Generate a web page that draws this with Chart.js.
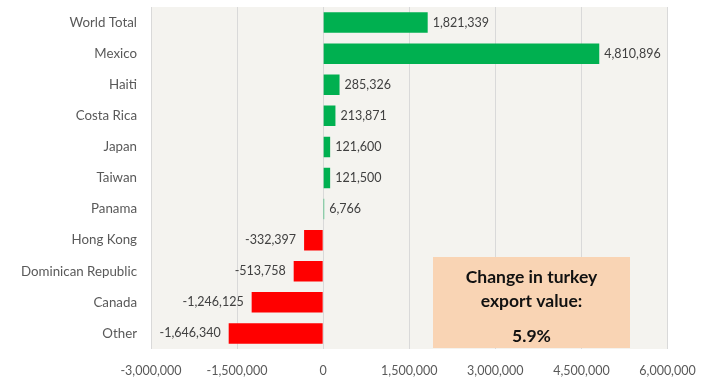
<!DOCTYPE html>
<html>
<head>
<meta charset="utf-8">
<script src="https://cdn.jsdelivr.net/npm/chart.js@4.4.1/dist/chart.umd.min.js"></script>
<style>
  html, body { margin: 0; padding: 0; background: #ffffff; }
  #wrap { width: 714px; height: 379px; }
</style>
</head>
<body>
<div id="wrap"><canvas id="chart" width="714" height="379"></canvas></div>
<script>
// Change in turkey export value by market
const markets = [
  'World Total', 'Mexico', 'Haiti', 'Costa Rica', 'Japan', 'Taiwan',
  'Panama', 'Hong Kong', 'Dominican Republic', 'Canada', 'Other'
];
const changeValues = [
  1821339, 4810896, 285326, 213871, 121600, 121500,
  6766, -332397, -513758, -1246125, -1646340
];
const xTickValues = [-3000000, -1500000, 0, 1500000, 3000000, 4500000, 6000000];
const boxTitleLines = ['Change in turkey', 'export value:'];
const boxFigure = '5.9%';

const FONT = 'Lato, "Open Sans", sans-serif';
const fmt = v => v.toLocaleString('en-US');

// Warm grey fill behind the plotting area
const plotBackground = {
  id: 'plotBackground',
  beforeDraw(chart) {
    const { ctx, chartArea: a } = chart;
    ctx.save();
    ctx.fillStyle = '#F4F3EF';
    ctx.fillRect(a.left, a.top, a.right - a.left, a.bottom - a.top);
    ctx.restore();
  }
};

// Value labels placed just outside each bar end
const valueLabels = {
  id: 'valueLabels',
  afterDatasetsDraw(chart) {
    const { ctx } = chart;
    const meta = chart.getDatasetMeta(0);
    const data = chart.data.datasets[0].data;
    ctx.save();
    ctx.font = '12.5px ' + FONT;
    ctx.fillStyle = '#404040';
    ctx.textBaseline = 'middle';
    meta.data.forEach((bar, i) => {
      const v = data[i];
      const p = bar.getProps(['x', 'y', 'base'], true);
      if (v >= 0) {
        ctx.textAlign = 'left';
        ctx.fillText(fmt(v), Math.max(p.x, p.base) + 5, p.y);
      } else {
        ctx.textAlign = 'right';
        ctx.fillText(fmt(v), Math.min(p.x, p.base) - 8, p.y);
      }
    });
    ctx.restore();
  }
};

// Summary call-out in the lower right of the plot
const summaryBox = {
  id: 'summaryBox',
  afterDraw(chart) {
    const { ctx, chartArea: a } = chart;
    const left = a.left + 282, right = a.left + 479;
    const top = a.bottom - 92, bottom = a.bottom - 1;
    ctx.save();
    ctx.fillStyle = '#F9D4B4';
    ctx.fillRect(left, top, right - left, bottom - top);
    const cx = (left + right) / 2;
    ctx.fillStyle = '#111111';
    ctx.font = 'bold 17.5px ' + FONT;
    ctx.textAlign = 'center';
    ctx.textBaseline = 'middle';
    ctx.fillText(boxTitleLines[0], cx, top + 20);
    ctx.fillText(boxTitleLines[1], cx, top + 44);
    ctx.fillText(boxFigure, cx, top + 79);
    ctx.restore();
  }
};

new Chart(document.getElementById('chart'), {
  type: 'bar',
  data: {
    labels: markets,
    datasets: [{
      data: changeValues,
      backgroundColor: changeValues.map(v => v >= 0 ? '#00B050' : '#FF0000'),
      borderWidth: 0,
      minBarLength: 1,
      barPercentage: 0.66,
      categoryPercentage: 1.0
    }]
  },
  options: {
    indexAxis: 'y',
    responsive: false,
    animation: false,
    layout: { padding: { left: 0, right: 46.5, top: 7, bottom: 0 } },
    plugins: {
      legend: { display: false },
      tooltip: { enabled: false }
    },
    scales: {
      x: {
        min: xTickValues[0],
        max: xTickValues[xTickValues.length - 1],
        afterBuildTicks(scale) {
          scale.ticks = xTickValues.map(v => ({ value: v }));
        },
        afterFit(scale) { scale.height = 30; },
        grid: { color: '#D9D9D9', lineWidth: 1, drawTicks: false },
        border: { display: false },
        ticks: {
          padding: 14,
          color: '#595959',
          font: { family: FONT, size: 12.5 },
          callback: v => fmt(v)
        }
      },
      y: {
        afterFit(scale) {
          scale.width = 151;
          scale.paddingTop = 0;
          scale.paddingBottom = 0;
        },
        grid: { display: false, drawTicks: false },
        border: { display: false },
        ticks: {
          padding: 14,
          color: '#595959',
          font: { family: FONT, size: 13.3 }
        }
      }
    }
  },
  plugins: [plotBackground, valueLabels, summaryBox]
});
</script>
</body>
</html>
